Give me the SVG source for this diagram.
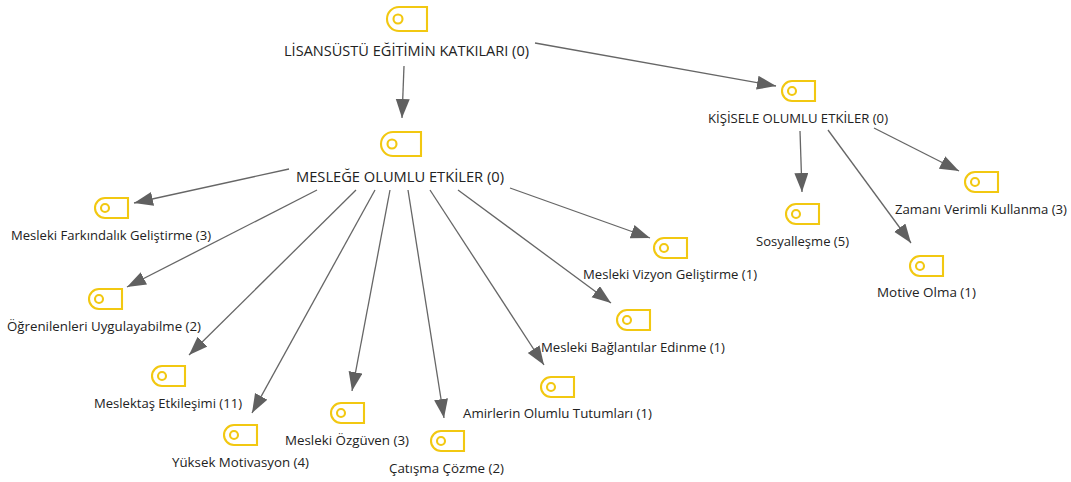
<svg xmlns="http://www.w3.org/2000/svg" width="1071" height="482" viewBox="0 0 1071 482">
<style>
text{font-family:"Open Sans","Noto Sans","Liberation Sans",sans-serif;font-size:13.5px;fill:#222}
.b{font-size:14.5px}
.tag{fill:#fff;stroke:#f2c811;stroke-width:2.1}
.dot{fill:none;stroke:#f2c811;stroke-width:2.1}
.c{stroke:#666;stroke-width:1.3;fill:none;marker-end:url(#a)}
</style>
<defs>
<marker id="a" markerUnits="userSpaceOnUse" markerWidth="21" markerHeight="15" refX="19" refY="7" orient="auto"><path d="M0 0L19 7L0 14Z" fill="#606060"/></marker>
<path id="s" class="tag" d="M10 0H33V20H10A10 10 0 0 1 10 0Z"/>
<path id="l" class="tag" d="M12 0H40V24H12A12 12 0 0 1 12 0Z"/>
</defs>
<g id="connectors">
<path class="c" d="M404 66L402 118"/>
<path class="c" d="M535 43L776 86"/>
<path class="c" d="M289 169L134 203"/>
<path class="c" d="M317 190L127 287"/>
<path class="c" d="M356 190L189 355"/>
<path class="c" d="M375 190L252 413"/>
<path class="c" d="M390 190L352 391"/>
<path class="c" d="M408 190L444 418"/>
<path class="c" d="M430 190L544 365"/>
<path class="c" d="M458 190L611 303"/>
<path class="c" d="M510 188L650 238"/>
<path class="c" d="M800 131L802 192"/>
<path class="c" d="M828 130L911 243"/>
<path class="c" d="M874 128L959 171"/>
</g>
<g id="n0"><use href="#l" x="387" y="7"/><circle class="dot" cx="398" cy="19" r="4.5"/><text class="b" x="284" y="56" textLength="245" lengthAdjust="spacingAndGlyphs">LİSANSÜSTÜ EĞİTİMİN KATKILARI (0)</text></g>
<g id="n1"><use href="#l" x="381" y="132"/><circle class="dot" cx="392" cy="144" r="4.5"/><text class="b" x="296" y="182" textLength="208" lengthAdjust="spacingAndGlyphs">MESLEĞE OLUMLU ETKİLER (0)</text></g>
<g id="n2"><use href="#s" x="95" y="198"/><circle class="dot" cx="105" cy="208" r="4"/><text x="11" y="240" textLength="200" lengthAdjust="spacingAndGlyphs">Mesleki Farkındalık Geliştirme (3)</text></g>
<g id="n3"><use href="#s" x="89" y="289"/><circle class="dot" cx="99" cy="299" r="4"/><text x="7" y="331" textLength="194" lengthAdjust="spacingAndGlyphs">Öğrenilenleri Uygulayabilme (2)</text></g>
<g id="n4"><use href="#s" x="152" y="366"/><circle class="dot" cx="162" cy="376" r="4"/><text x="94" y="408" textLength="148" lengthAdjust="spacingAndGlyphs">Meslektaş Etkileşimi (11)</text></g>
<g id="n5"><use href="#s" x="224" y="425"/><circle class="dot" cx="234" cy="435" r="4"/><text x="172" y="467" textLength="137" lengthAdjust="spacingAndGlyphs">Yüksek Motivasyon (4)</text></g>
<g id="n6"><use href="#s" x="331" y="403"/><circle class="dot" cx="341" cy="413" r="4"/><text x="285" y="445" textLength="124" lengthAdjust="spacingAndGlyphs">Mesleki Özgüven (3)</text></g>
<g id="n7"><use href="#s" x="431" y="431"/><circle class="dot" cx="441" cy="441" r="4"/><text x="389" y="473" textLength="115" lengthAdjust="spacingAndGlyphs">Çatışma Çözme (2)</text></g>
<g id="n8"><use href="#s" x="541" y="377"/><circle class="dot" cx="551" cy="387" r="4"/><text x="463" y="418" textLength="189" lengthAdjust="spacingAndGlyphs">Amirlerin Olumlu Tutumları (1)</text></g>
<g id="n9"><use href="#s" x="617" y="310"/><circle class="dot" cx="627" cy="320" r="4"/><text x="541" y="352" textLength="184" lengthAdjust="spacingAndGlyphs">Mesleki Bağlantılar Edinme (1)</text></g>
<g id="n10"><use href="#s" x="654" y="238"/><circle class="dot" cx="664" cy="248" r="4"/><text x="583" y="279" textLength="174" lengthAdjust="spacingAndGlyphs">Mesleki Vizyon Geliştirme (1)</text></g>
<g id="n11"><use href="#s" x="782" y="81"/><circle class="dot" cx="792" cy="91" r="4"/><text x="708" y="123" textLength="180" lengthAdjust="spacingAndGlyphs">KİŞİSELE OLUMLU ETKİLER (0)</text></g>
<g id="n12"><use href="#s" x="786" y="204"/><circle class="dot" cx="796" cy="214" r="4"/><text x="756" y="246" textLength="93" lengthAdjust="spacingAndGlyphs">Sosyalleşme (5)</text></g>
<g id="n13"><use href="#s" x="910" y="256"/><circle class="dot" cx="920" cy="266" r="4"/><text x="877" y="297" textLength="99" lengthAdjust="spacingAndGlyphs">Motive Olma (1)</text></g>
<g id="n14"><use href="#s" x="965" y="172"/><circle class="dot" cx="975" cy="182" r="4"/><text x="895" y="214" textLength="172" lengthAdjust="spacingAndGlyphs">Zamanı Verimli Kullanma (3)</text></g>
</svg>
